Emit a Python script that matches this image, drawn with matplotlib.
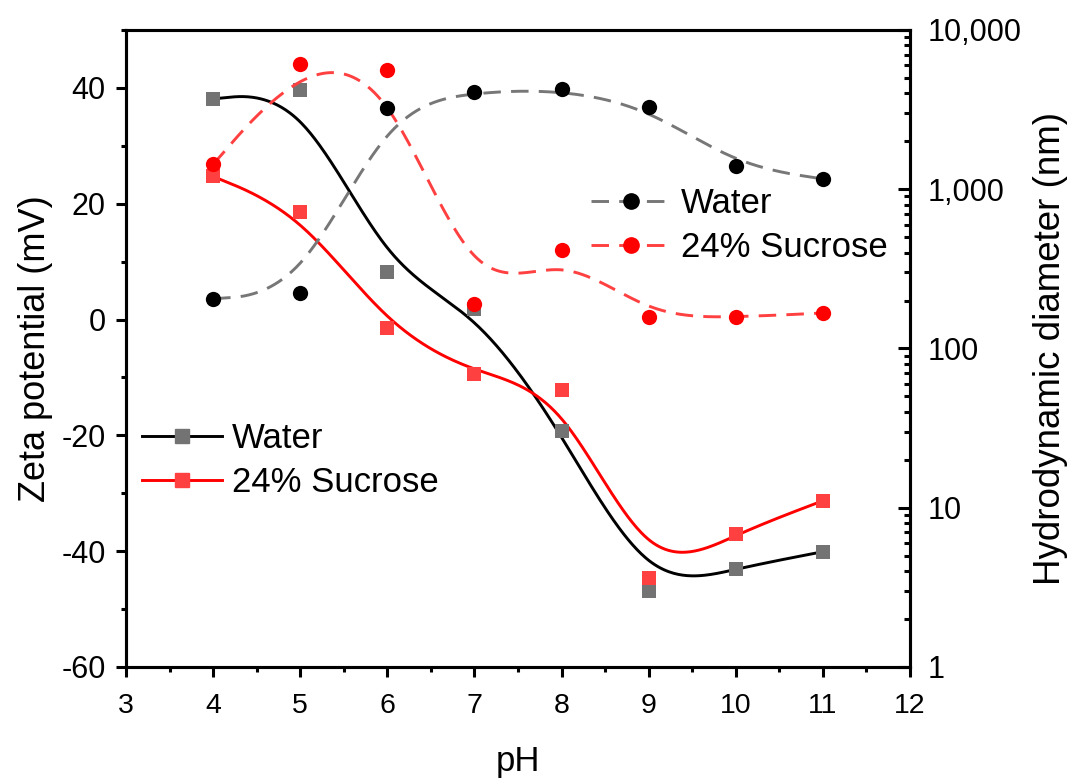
import numpy as np
import matplotlib
matplotlib.use('Agg')
import matplotlib.pyplot as plt
from matplotlib.ticker import MultipleLocator, FuncFormatter, LogLocator, NullFormatter

plt.rcParams['font.family'] = ['Liberation Sans', 'DejaVu Sans']
plt.rcParams['axes.unicode_minus'] = False

# data
ph = [4, 5, 6, 7, 8, 9, 10, 11]
zeta_water = [38.1, 39.6, 8.2, 1.9, -19.3, -46.8, -43.0, -40.1]
zeta_sucrose = [24.7, 18.6, -1.4, -9.4, -12.2, -44.7, -37.0, -31.3]
size_water = [205, 223, 3245, 4090, 4236, 3264, 1402, 1161]
size_sucrose = [1430, 6110, 5600, 191, 418, 157, 157, 167]
labels = ['Water', '24% Sucrose']


def bspline(x, y, n=60):
    # uniform cubic B-spline, data points as control points, end points tripled
    # so the curve starts/ends on the first/last point (like Origin's B-spline connect)
    p = np.column_stack([x, y]).astype(float)
    p = np.vstack([p[:1], p[:1], p, p[-1:], p[-1:]])
    u = np.linspace(0, 1, n)[:, None]
    b0 = (1 - u) ** 3 / 6
    b1 = (3 * u ** 3 - 6 * u ** 2 + 4) / 6
    b2 = (-3 * u ** 3 + 3 * u ** 2 + 3 * u + 1) / 6
    b3 = u ** 3 / 6
    segs = [b0 * p[i] + b1 * p[i + 1] + b2 * p[i + 2] + b3 * p[i + 3] for i in range(len(p) - 3)]
    out = np.vstack(segs)
    return out[:, 0], out[:, 1]


fig = plt.figure(figsize=(10.73, 7.82), dpi=100)
ax = fig.add_axes([0.1174, 0.1471, 0.7307, 0.8146])
ax2 = ax.twinx()

lw = 2.1
slw = 2.2
# zeta potential (left axis)
bx, by = bspline(ph, zeta_water)
ax.plot(bx, by, color='black', lw=lw, zorder=2)
ax.plot(ph, zeta_water, 's', color='#737373', ms=9.8, mew=0, zorder=3)
bx, by = bspline(ph, zeta_sucrose)
ax.plot(bx, by, color='#FF0000', lw=lw, zorder=2)
ax.plot(ph, zeta_sucrose, 's', color='#FF4040', ms=9.8, mew=0, zorder=3)

# legend proxies for left axis
h1, = ax.plot([], [], '-s', color='black', mfc='#737373', mec='#737373', ms=9.8, lw=lw)
h2, = ax.plot([], [], '-s', color='#FF0000', mfc='#FF4040', mec='#FF4040', ms=9.8, lw=lw)
ax.legend([h1, h2], labels, loc='center left', bbox_to_anchor=(0.0204, 0.324),
          frameon=False, fontsize=25, borderpad=0, borderaxespad=0,
          handlelength=2.3, handletextpad=0.3, labelspacing=0.33)

# hydrodynamic diameter (right axis, log)
dash = (6, 3.5)
bx, by = bspline(ph, np.log10(size_water))
ax2.plot(bx, 10 ** by, color='#777777', lw=lw, dashes=dash, zorder=2)
ax2.plot(ph, size_water, 'o', color='black', ms=11, mew=0, zorder=3)
bx, by = bspline(ph, np.log10(size_sucrose))
ax2.plot(bx, 10 ** by, color='#FF4040', lw=lw, dashes=dash, zorder=2)
ax2.plot(ph, size_sucrose, 'o', color='#FF0000', ms=11, mew=0, zorder=3)

g1, = ax2.plot([], [], 'o', color='#777777', mfc='black', mec='black', ms=11, lw=lw, ls='-', dashes=dash)
g2, = ax2.plot([], [], 'o', color='#FF4040', mfc='#FF0000', mec='#FF0000', ms=11, lw=lw, ls='-', dashes=dash)
ax2.legend([g1, g2], labels, loc='center left', bbox_to_anchor=(0.593, 0.6926),
           frameon=False, fontsize=25, borderpad=0, borderaxespad=0,
           handlelength=2.3, handletextpad=0.3, labelspacing=0.33)

# axes setup
ax.set_xlim(3, 12)
ax.set_ylim(-60, 50)
ax.xaxis.set_major_locator(MultipleLocator(1))
ax.xaxis.set_minor_locator(MultipleLocator(0.5))
ax.yaxis.set_minor_locator(MultipleLocator(10))
ax.set_yticks([-60, -40, -20, 0, 20, 40])
ax.tick_params(axis='both', which='major', direction='out', length=7.5, width=slw)
ax.tick_params(axis='both', which='minor', direction='out', length=3.8, width=slw)
ax.tick_params(axis='x', pad=11, labelsize=20.5)
ax.tick_params(axis='y', pad=7, labelsize=22)
ax.tick_params(top=False, right=False, which='both')

ax2.set_yscale('log')
ax2.set_ylim(1, 10000)
ax2.yaxis.set_major_locator(LogLocator(base=10, numticks=10))
ax2.yaxis.set_minor_locator(LogLocator(base=10, subs=np.arange(2, 10), numticks=10))
ax2.yaxis.set_minor_formatter(NullFormatter())
ax2.yaxis.set_major_formatter(FuncFormatter(lambda v, _: f'{v:,.0f}'))
ax2.tick_params(axis='y', which='major', direction='in', length=8.5, width=slw, labelsize=22, pad=13)
ax2.tick_params(axis='y', which='minor', direction='in', length=4.2, width=slw)

for a in (ax, ax2):
    for sp in a.spines.values():
        sp.set_linewidth(slw)

ax.set_xlabel('pH', fontsize=25, labelpad=19)
ax.set_ylabel('Zeta potential (mV)', fontsize=26, labelpad=6)
ax2.set_ylabel('Hydrodynamic diameter (nm)', fontsize=26.5, labelpad=8)

fig.savefig('out.png', dpi=100)
